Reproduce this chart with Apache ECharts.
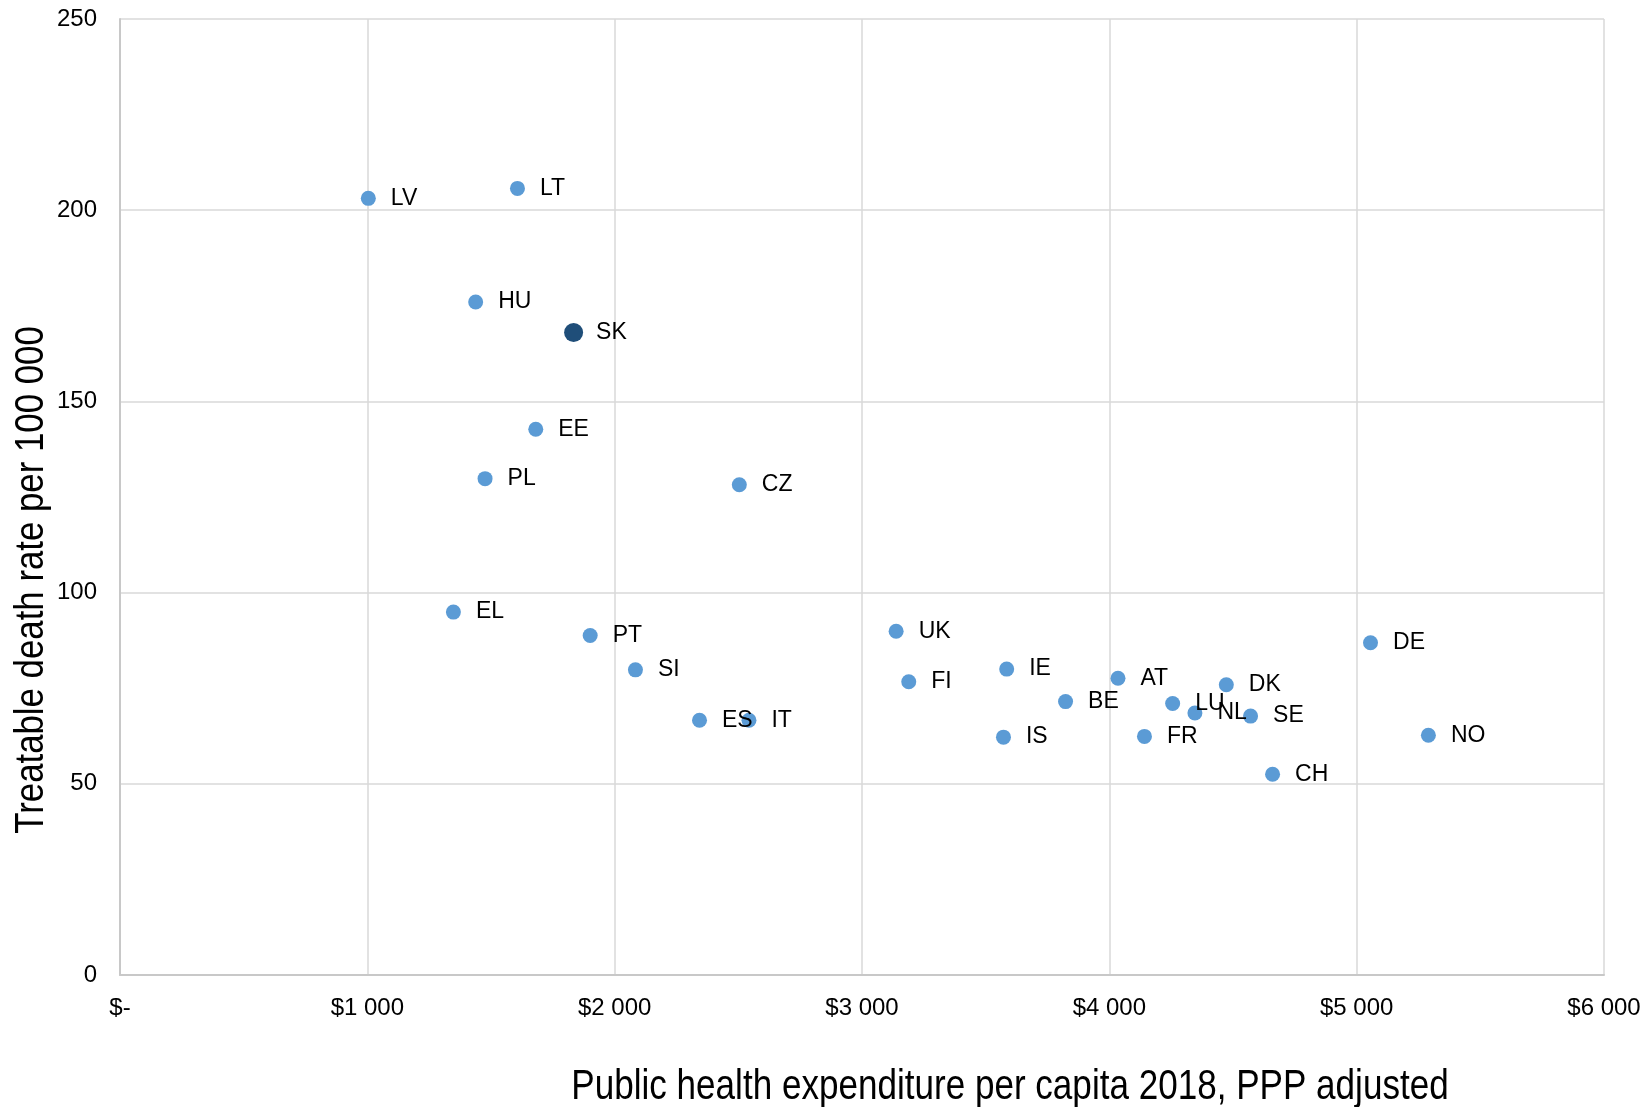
<!DOCTYPE html>
<html>
<head>
<meta charset="utf-8">
<script src="https://cdn.jsdelivr.net/npm/echarts@6/dist/echarts.min.js"></script>
<style>
html,body{margin:0;padding:0;background:#fff;}
#c{width:1649px;height:1107px;}
</style>
</head>
<body>
<div id="c"></div>
<script>
// Country codes
var countries = ['LV','LT','HU','EE','PL','CZ','EL','PT','SI','ES','IT','UK','FI','IE','IS','BE','AT','FR','LU','NL','DK','SE','CH','DE','NO'];
// Public health expenditure per capita 2018, PPP adjusted ($)
var expenditure = [1004,1607,1438,1681,1476,2504,1348,1901,2084,2343,2543,3138,3189,3585,3572,3823,4035,4142,4256,4346,4473,4571,4660,5056,5290];
// Treatable death rate per 100 000
var deathRate = [203.1,205.7,176.0,142.7,129.8,128.2,94.9,88.8,79.8,66.6,66.6,89.9,76.7,80.0,62.2,71.5,77.6,62.4,71.0,68.5,75.9,67.7,52.5,86.9,62.7];
// Highlighted country
var hlCountry = ['SK'];
var hlExpenditure = [1834];
var hlDeathRate = [168.0];
// Tick labels
var xTickLabels = ['$-','$1 000','$2 000','$3 000','$4 000','$5 000','$6 000'];
var yTickLabels = ['0','50','100','150','200','250'];

var FONT = '"Liberation Sans Narrow", "Arial Narrow", "Liberation Sans", Arial, sans-serif';

function pts(xs, ys, names){
  return xs.map(function(x,i){ return {value:[x, ys[i]], name:names[i]}; });
}

var chart = echarts.init(document.getElementById('c'), null, {renderer:'canvas'});
chart.setOption({
  animation:false,
  backgroundColor:'#ffffff',
  grid:{left:120, top:19, right:45, bottom:132, containLabel:false},
  xAxis:{
    type:'value', min:0, max:6000, interval:1000,
    axisLine:{show:true, lineStyle:{color:'#c8c8c8', width:2}},
    axisTick:{show:false},
    splitLine:{show:true, lineStyle:{color:'#d9d9d9', width:1.5}},
    axisLabel:{
      color:'#000', fontFamily:FONT, fontSize:24, margin:21,
      formatter:function(v){ return xTickLabels[Math.round(v/1000)]; }
    }
  },
  yAxis:{
    type:'value', min:0, max:250, interval:50,
    axisLine:{show:true, lineStyle:{color:'#c8c8c8', width:2}},
    axisTick:{show:false},
    splitLine:{show:true, lineStyle:{color:'#d9d9d9', width:1.5}},
    axisLabel:{
      color:'#000', fontFamily:FONT, fontSize:24, margin:23,
      formatter:function(v){ return yTickLabels[Math.round(v/50)]; }
    }
  },
  graphic:[
    {type:'text', x:1010, y:1087, scaleX:0.835, style:{text:'Public health expenditure per capita 2018, PPP adjusted', fill:'#000', font:'42px '+FONT, textAlign:'center', textVerticalAlign:'middle'}},
    {type:'text', x:32, y:580, rotation:Math.PI/2, scaleX:0.87, style:{text:'Treatable death rate per 100 000', fill:'#000', font:'40px '+FONT, textAlign:'center', textVerticalAlign:'middle'}}
  ],
  series:[
    {
      type:'scatter', symbol:'circle', symbolSize:15,
      itemStyle:{color:'#5B9BD5', opacity:1},
      data:pts(expenditure, deathRate, countries),
      label:{show:true, position:'right', distance:15, formatter:'{b}', color:'#000', fontFamily:FONT, fontSize:23}
    },
    {
      type:'scatter', symbol:'circle', symbolSize:19,
      itemStyle:{color:'#1F4E79', opacity:1},
      data:pts(hlExpenditure, hlDeathRate, hlCountry),
      label:{show:true, position:'right', distance:13, formatter:'{b}', color:'#000', fontFamily:FONT, fontSize:23}
    }
  ]
});
</script>
</body>
</html>
